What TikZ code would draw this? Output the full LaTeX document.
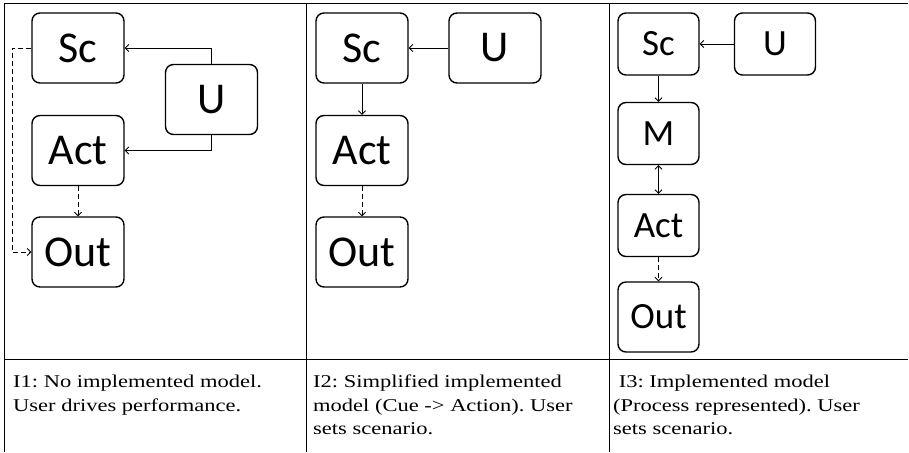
\documentclass[tikz,border=0pt]{standalone}
\usepackage{fontspec}
\setmainfont{Liberation Serif}[FakeStretch=1.25]
\newfontfamily\boxfont{Carlito}
\usetikzlibrary{arrows.meta}
\frenchspacing

\begin{document}
\begin{tikzpicture}[x=1pt,y=-1pt,
  >={Straight Barb[length=3.5pt,width=7pt]},
  blk/.style={draw,line width=1.4pt,rounded corners=8pt,inner sep=0pt,minimum width=92pt,minimum height=70pt,font=\boxfont\fontsize{44}{44}\selectfont},
  sblk/.style={blk,minimum width=81pt,minimum height=62pt,font=\boxfont\fontsize{37}{37}\selectfont},
  arr/.style={line width=0.9pt,->},
  darr/.style={arr,dash pattern=on 5pt off 3pt},
  desc/.style={anchor=north west,inner sep=0pt,align=left,font=\fontsize{18}{23.5}\selectfont}]
\useasboundingbox (0,0) rectangle (909,452);
% table
\draw[line width=1pt] (4,452) -- (4,4) -- (908,4);
\draw[line width=1pt] (4,359) -- (908,359);
\draw[line width=1pt] (306,4) -- (306,452);
\draw[line width=1pt] (609,4) -- (609,452);

% I1
\node[blk] (sc1) at (78,48) {Sc};
\node[blk] (u1) at (211.5,99.5) {U};
\node[blk] (act1) at (78,150.5) {Act};
\node[blk] (out1) at (78,252) {Out};
\draw[arr] (u1.north) |- (sc1.east);
\draw[arr] (u1.south) |- (act1.east);
\draw[darr] (act1) -- (out1);
\draw[darr] (sc1.west) -- ++(-19,0) |- (out1.west);

% I2
\node[blk] (sc2) at (362,48) {Sc};
\node[blk] (u2) at (495,48) {U};
\node[blk] (act2) at (362,150.5) {Act};
\node[blk] (out2) at (362,252) {Out};
\draw[arr] (u2) -- (sc2);
\draw[arr] (sc2) -- (act2);
\draw[darr] (act2) -- (out2);

% I3
\node[sblk] (sc3) at (658.5,44) {Sc};
\node[sblk] (u3) at (775,44) {U};
\node[sblk] (m3) at (658.5,133.5) {M};
\node[sblk] (act3) at (658.5,225.5) {Act};
\node[sblk,minimum height=70pt] (out3) at (658.5,317) {Out};
\draw[arr] (u3) -- (sc3);
\draw[arr] (sc3) -- (m3);
\draw[arr,<->] (m3) -- (act3);
\draw[darr] (act3) -- (out3);

% captions
\node[desc] (t1) at (13,375) {I1: No implemented model.\\User drives performance.};
\node[desc] (t2) at (313,375) {I2: Simplified implemented\\model (Cue -> Action). User\\sets scenario.};
\node[desc] (t3) at (613,375) {\ I3: Implemented model\\(Process represented). User\\sets scenario.};
\end{tikzpicture}
\end{document}
